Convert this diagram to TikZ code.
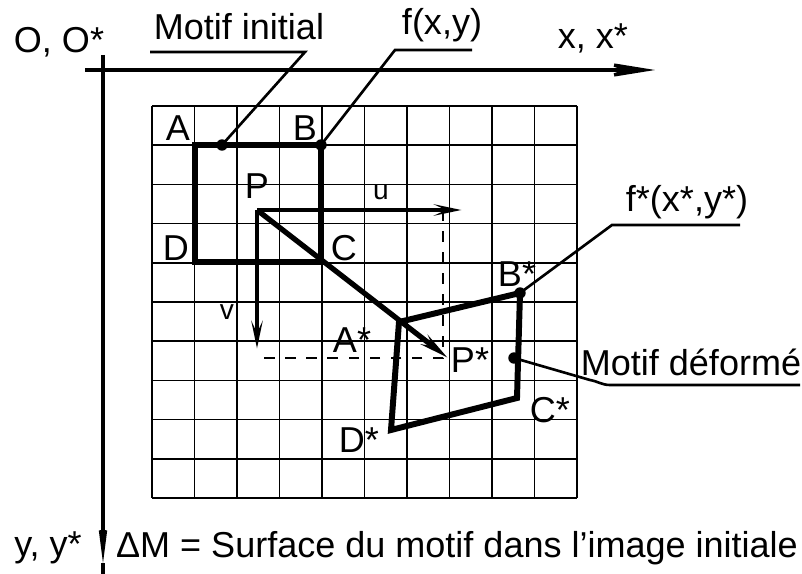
\documentclass[tikz,border=0pt]{standalone}
\usepackage{fontspec}
\setmainfont{Liberation Sans}
\usetikzlibrary{arrows.meta,positioning}

\begin{document}
\begin{tikzpicture}[x=0.02cm,y=-0.02cm,
    every node/.style={font=\fontsize{20.5}{24}\selectfont,inner sep=0pt},
    small/.style={font=\fontsize{16}{19}\selectfont},
    gridline/.style={line width=1pt},
    contour/.style={line width=3.4pt,line join=miter},
    axis/.style={line width=1.9pt},
    leader/.style={line width=1.5pt},
    vec/.style={line width=2.4pt,-{Stealth[length=14pt,width=5pt]}},
    proj/.style={line width=0.9pt,dash pattern=on 6pt off 6pt},
    dot/.style={circle,fill,minimum size=6.5pt}]
  \useasboundingbox (0,0) rectangle (802,574);
  % grille 10 x 10
  \foreach \i in {0,...,10} {
    \draw[gridline] (152+42.5*\i,106) -- (152+42.5*\i,498);
    \draw[gridline] (152,106+39.2*\i) -- (577,106+39.2*\i);
  }
  % axes
  \coordinate (xstart) at (85,70);
  \coordinate (xend) at (655,70);
  \coordinate (ystart) at (103,55);
  \coordinate (yend) at (103,563);
  \coordinate (ybot) at (103,574);
  \draw[axis,-{Stealth[length=34pt,width=11pt,inset=16pt]}] (xstart) -- (xend);
  \draw[axis,-{Stealth[length=31pt,width=8pt,inset=14pt]}] (ystart) -- (yend);
  \draw[axis] (yend) -- (ybot);
  \node (orig) at (59,42) {O, O*};
  \node (xlab) at (593,38) {x, x*};
  \node (ylab) at (48,548) {y, y*};
  % motif initial
  \coordinate (A) at (195,145);
  \coordinate (B) at (321,145);
  \coordinate (C) at (321,262);
  \coordinate (D) at (195,262);
  \draw[contour] (A) -- (B) -- (C) -- (D) -- cycle;
  \node (lA) at (178,128) {A};
  \node (lB) at (305,128) {B};
  \node (lC) at (344,248) {C};
  \node (lD) at (176,248) {D};
  % motif deforme
  \coordinate (Ast) at (399,322);
  \coordinate (Bst) at (520,293);
  \coordinate (Cst) at (517,398);
  \coordinate (Dst) at (391,430);
  \draw[contour] (Ast) -- (Bst) -- (Cst) -- (Dst) -- cycle;
  \node (lAst) at (352,340) {A*};
  \node (lBst) at (517,274) {B*};
  \node (lCst) at (550,410) {C*};
  \node (lDst) at (359,440) {D*};
  % point P et vecteurs u, v
  \coordinate (P) at (257,210);
  \coordinate (Pst) at (448,358);
  \coordinate (ue) at (463,210);
  \coordinate (ve) at (257,350);
  \coordinate (uq) at (443,210);
  \coordinate (vq) at (257,358);
  \coordinate (Q) at (443,358);
  \draw[proj] (uq) -- (Q) -- (vq);
  \draw[vec] (P) -- (ue);
  \draw[vec] (P) -- (ve);
  \draw[line width=3pt,-{Stealth[length=16pt,width=6pt]}] (P) -- (Pst);
  \node (lP) at (257,186) {P};
  \node (lPst) at (470,360) {P*};
  \node[small] (lu) at (381,192) {u};
  \node[small] (lv) at (227,312) {v};
  % renvois
  \node[dot] (dAB) at (222,145) {};
  \node[dot] (dB) at (B) {};
  \node[dot] (dBst) at (Bst) {};
  \node[dot] (dCst) at (514,358) {};
  \node (mi) at (239,27) {Motif initial};
  \coordinate (mil) at (150,52);
  \coordinate (mir) at (305,52);
  \draw[leader] (mil) -- (mir) -- (dAB.center);
  \node (fxy) at (442,25) {f(x,y)};
  \coordinate (fl) at (395,50);
  \coordinate (fr) at (472,50);
  \draw[leader] (fr) -- (fl) -- (dB.center);
  \node (fst) at (687,202) {f*(x*,y*)};
  \coordinate (fsl) at (612,225);
  \coordinate (fsr) at (740,225);
  \draw[leader] (fsr) -- (fsl) -- (dBst.center);
  \node (md) at (691,362) {Motif déformé};
  \coordinate (mdk) at (590,380);
  \coordinate (mdl) at (610,385);
  \coordinate (mdr) at (800,385);
  \draw[leader] (dCst.center) -- (mdk) to[out=-10,in=180] (mdl) -- (mdr);
  \node (legend) at (457,548) {ΔM = Surface du motif dans l'image initiale};
\end{tikzpicture}
\end{document}
